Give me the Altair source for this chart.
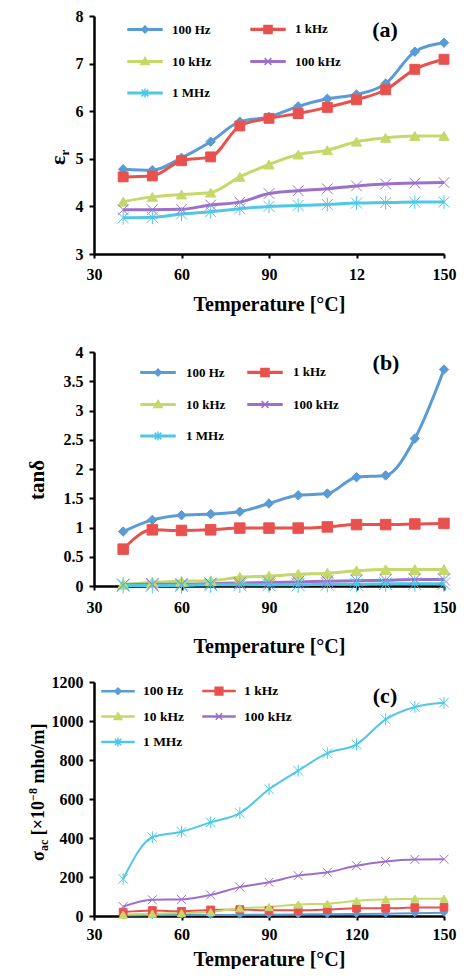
import altair as alt
import pandas as pd

# ---------------- data ----------------
temps = [40, 50, 60, 70, 80, 90, 100, 110, 120, 130, 140, 150]
series = ["100 Hz", "1 kHz", "10 kHz", "100 kHz", "1 MHz"]
colors = ["#5B9BD5", "#E8524E", "#C5D96A", "#9C6FCB", "#4FC8E6"]
# order in which the legend grid (column-major) shows the entries row by row
legend_order = ["100 Hz", "10 kHz", "1 MHz", "1 kHz", "100 kHz"]

eps_100hz = [4.78, 4.76, 5.02, 5.36, 5.78, 5.88, 6.10, 6.26, 6.35, 6.58, 7.25, 7.44]
eps_1khz = [4.62, 4.64, 4.96, 5.04, 5.69, 5.85, 5.95, 6.08, 6.24, 6.45, 6.88, 7.09]
eps_10khz = [4.10, 4.20, 4.25, 4.29, 4.62, 4.88, 5.09, 5.18, 5.36, 5.44, 5.48, 5.48]
eps_100khz = [3.93, 3.93, 3.94, 4.03, 4.09, 4.27, 4.33, 4.37, 4.43, 4.47, 4.49, 4.50]
eps_1mhz = [3.76, 3.77, 3.84, 3.89, 3.95, 4.00, 4.02, 4.04, 4.07, 4.08, 4.09, 4.09]

tan_100hz = [0.93, 1.13, 1.21, 1.23, 1.27, 1.41, 1.55, 1.58, 1.86, 1.89, 2.52, 3.70]
tan_1khz = [0.63, 0.96, 0.95, 0.96, 0.99, 0.99, 0.99, 1.01, 1.05, 1.05, 1.06, 1.07]
tan_10khz = [0.03, 0.06, 0.08, 0.09, 0.15, 0.17, 0.20, 0.22, 0.26, 0.28, 0.28, 0.28]
tan_100khz = [0.02, 0.03, 0.03, 0.04, 0.05, 0.06, 0.07, 0.08, 0.09, 0.10, 0.11, 0.11]
tan_1mhz = [0.01, 0.01, 0.01, 0.02, 0.02, 0.02, 0.02, 0.03, 0.03, 0.04, 0.04, 0.04]

sig_100hz = [3, 4, 5, 5, 6, 7, 8, 9, 10, 12, 14, 17]
sig_1khz = [20, 28, 24, 31, 33, 29, 29, 33, 40, 40, 43, 44]
sig_10khz = [7, 12, 15, 20, 40, 46, 59, 63, 78, 85, 89, 89]
sig_100khz = [48, 83, 85, 108, 148, 173, 207, 224, 258, 280, 290, 291]
sig_1mhz = [190, 404, 432, 480, 528, 650, 745, 835, 880, 1008, 1072, 1094]

x_ticks = [30, 60, 90, 120, 150]
eps_ticks = [3, 4, 5, 6, 7, 8]
tan_ticks = [0, 0.5, 1, 1.5, 2, 2.5, 3, 3.5, 4]
sig_ticks = [0, 200, 400, 600, 800, 1000, 1200]
panel_labels = ["(a)", "(b)", "(c)"]
x_title = "Temperature [°C]"

SERIF = "Liberation Serif"
color_of = dict(zip(series, colors))

# marker shapes for plotted points
pt_shapes = ["diamond", "square", "triangle-up",
             "M-1,-1L1,1M-1,1L1,-1",
             "M-1,-1L1,1M-1,1L1,-1M0,-1.25V1.25"]


def legend_shapes(t):
    ln = f"M-1,-{t}H1V{t}H-1Z"
    d = {
        "100 Hz": ln + "M0,-0.2L0.2,0L0,0.2L-0.2,0Z",
        "1 kHz": ln + "M-0.24,-0.24H0.24V0.24H-0.24Z",
        "10 kHz": ln + "M0,-0.24L0.24,0.18L-0.24,0.18Z",
        "100 kHz": ln + "M-0.2,-0.2L0.2,0.2M-0.2,0.2L0.2,-0.2",
        "1 MHz": ln + "M-0.2,-0.2L0.2,0.2M-0.2,0.2L0.2,-0.2M0,-0.26V0.26",
    }
    return [d[s] for s in legend_order]


def panel(vals, ydom, yticks, yfmt, label, label_xy, pieces, title_xy,
          leg, lw, psizes, height, xlab_pad, xtitle_pad, xlabel_expr=None,
          top_spacer=None):
    rows = []
    for s, arr in zip(series, vals):
        for t, v in zip(temps, arr):
            rows.append({"T": t, "v": v, "s": s})
    df = pd.DataFrame(rows)

    xaxis_kw = dict(values=x_ticks, title=x_title, labelFlush=False,
                    tickSize=4, labelPadding=xlab_pad, titlePadding=xtitle_pad)
    if xlabel_expr:
        xaxis_kw["labelExpr"] = xlabel_expr
    xs = alt.X("T:Q", scale=alt.Scale(domain=[30, 150], nice=False, zero=False),
               axis=alt.Axis(**xaxis_kw))
    ys = alt.Y("v:Q", scale=alt.Scale(domain=ydom, nice=False, zero=False),
               axis=alt.Axis(values=yticks, format=yfmt, title=None,
                             tickSize=5, labelPadding=6))

    base = alt.Chart(df)
    cscale = alt.Scale(domain=series, range=colors)
    lscale = alt.Scale(domain=legend_order, range=[color_of[s] for s in legend_order])

    lines = base.mark_line(interpolate="monotone", strokeWidth=lw).encode(
        x=xs, y=ys, stroke=alt.Stroke("s:N", scale=cscale, legend=None))

    pts = base.mark_point(filled=True, opacity=1, strokeWidth=1).encode(
        x=xs, y=ys,
        shape=alt.Shape("s:N", scale=alt.Scale(domain=series, range=pt_shapes), legend=None),
        fill=alt.Fill("s:N", scale=cscale, legend=None),
        stroke=alt.Stroke("s:N", scale=cscale, legend=None),
        size=alt.Size("s:N", scale=alt.Scale(domain=series, range=psizes), legend=None))

    L = alt.Legend(orient="none", legendX=leg["x"], legendY=leg["y"], columns=2,
                   title=None, symbolSize=leg["sym"] ** 2, symbolStrokeWidth=1.5,
                   symbolOpacity=1, labelFont=SERIF, labelFontWeight="bold",
                   labelFontSize=leg["fs"], labelColor="black", labelOffset=leg["off"],
                   columnPadding=leg["colpad"], rowPadding=leg["rowpad"], padding=0)
    carrier = base.mark_point(filled=True, opacity=0).encode(
        x=xs, y=ys,
        shape=alt.Shape("s:N", scale=alt.Scale(domain=legend_order, range=legend_shapes(leg["t"])), legend=L),
        fill=alt.Fill("s:N", scale=lscale, legend=L),
        stroke=alt.Stroke("s:N", scale=lscale, legend=L))

    lab = alt.Chart(pd.DataFrame({"t": [label]})).mark_text(
        font=SERIF, fontWeight="bold", fontSize=22, color="black",
        align="center", baseline="middle").encode(
        text="t:N", x=alt.value(label_xy[0]), y=alt.value(label_xy[1]))

    layers = [lines, pts, carrier, lab]
    for txt, fs, dx, dy in pieces:
        layers.append(alt.Chart(pd.DataFrame({"t": [txt]})).mark_text(
            angle=270, align="left", baseline="alphabetic", font=SERIF,
            fontWeight="bold", fontSize=fs, dx=dx, dy=dy, color="black").encode(
            text="t:N", x=alt.value(title_xy[0]), y=alt.value(title_xy[1])))

    if top_spacer is not None:
        # invisible mark that only reserves a little room above this panel
        layers.append(alt.Chart(pd.DataFrame({"t": ["."]})).mark_text(
            opacity=0, fontSize=8, baseline="top").encode(
            text="t:N", x=alt.value(0), y=alt.value(-top_spacer)))

    return alt.layer(*layers).resolve_scale(
        shape="independent", fill="independent", stroke="independent",
        size="independent").properties(width=350, height=height)


pa = panel([eps_100hz, eps_1khz, eps_10khz, eps_100khz, eps_1mhz],
           [3, 8], eps_ticks, "d", panel_labels[0], (291, 14),
           [("ε", 22, 0, 0), ("r", 13, 9.5, 4)], (-29, 149),
           dict(x=33, y=-5, sym=34, fs=13, off=9, colpad=36, rowpad=6.5, t=0.05),
           3, [90, 121, 110, 100, 100], 238, 8, 12, "datum.value == 120 ? '12' : datum.label")

pb = panel([tan_100hz, tan_1khz, tan_10khz, tan_100khz, tan_1mhz],
           [0, 4], tan_ticks, "~g", panel_labels[1], (292, 11),
           [("tanδ", 21, 0, 0)], (-50, 148),
           dict(x=46, y=2, sym=34, fs=13, off=10, colpad=19, rowpad=6.5, t=0.05),
           3, [90, 169, 110, 100, 100], 234, 9, 21, top_spacer=20)

pc = panel([sig_100hz, sig_1khz, sig_10khz, sig_100khz, sig_1mhz],
           [0, 1200], sig_ticks, "d", panel_labels[2], (291, 14),
           [("σ", 18, 0, 0), ("ac", 12, 10, 4), ("[×10", 18, 25.8, 0),
            ("−8", 12, 60.1, -7), ("mho/m]", 18, 77.4, 0)], (-50, 179),
           dict(x=7, y=-8, sym=32, fs=13.5, off=8, colpad=16, rowpad=1.5, t=0.03),
           2, [50, 90, 80, 80, 80], 234, 6, 7)

chart = alt.vconcat(pa, pb, pc, spacing=18).properties(
    padding={"left": 19, "top": 0, "right": 2, "bottom": 0}
).configure_axis(
    grid=False, labelFont=SERIF, labelFontWeight="bold", labelFontSize=16,
    labelColor="black", titleFont=SERIF, titleFontWeight="bold", titleFontSize=20,
    titleColor="black", domainColor="black", domainWidth=2.5, tickColor="black",
    tickWidth=2
).configure_view(stroke=None)

chart.save("out.html", embed_options={"renderer": "svg", "actions": False})
